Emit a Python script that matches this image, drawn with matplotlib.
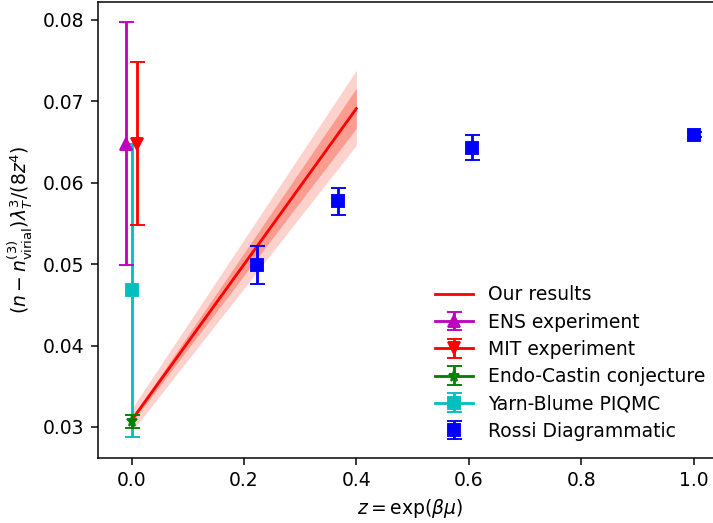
import matplotlib
matplotlib.use("Agg")
import matplotlib.pyplot as plt

# Linear fit of our results: endpoints of the line and of the two uncertainty bands
fit_z = [0.0, 0.4]
fit_y = [0.0308, 0.0691]
band1_lo = [0.0305, 0.0667]
band1_hi = [0.0311, 0.0716]
band2_lo = [0.0294, 0.0646]
band2_hi = [0.0322, 0.0738]

# Experimental and theoretical reference points
ens_z, ens_y, ens_err = [-0.01], [0.0648], [0.0149]
mit_z, mit_y, mit_err = [0.01], [0.0648], [0.0100]
endo_z, endo_y, endo_err = [0.0], [0.0307], [0.0008]
yarn_z, yarn_y, yarn_err = [0.0], [0.0468], [0.0180]
rossi_z = [0.2231, 0.3679, 0.6065, 1.0]
rossi_y = [0.0499, 0.0577, 0.0643, 0.0659]
rossi_err = [0.0023, 0.0017, 0.0015, 0.0003]

DPI = 135
fig = plt.figure(figsize=(713 / DPI, 523 / DPI), dpi=DPI)
ax = fig.add_axes([97.5 / 713, 65.5 / 523, (722 - 97.5) / 713, (521.5 - 65.5) / 523])

ax.fill_between(fit_z, band2_lo, band2_hi, color="salmon", alpha=0.35, linewidth=0)
ax.fill_between(fit_z, band1_lo, band1_hi, color="salmon", alpha=0.65, linewidth=0)
ax.plot(fit_z, fit_y, "r-", label="Our results")

ax.errorbar(ens_z, ens_y, yerr=ens_err, fmt="m^-", capsize=4,
            label="ENS experiment", zorder=5)
ax.errorbar(mit_z, mit_y, yerr=mit_err, fmt="rv-", capsize=4,
            label="MIT experiment", zorder=5)
ax.errorbar(endo_z, endo_y, yerr=endo_err, fmt="g*-", capsize=4,
            label="Endo-Castin conjecture", zorder=4)
ax.errorbar(yarn_z, yarn_y, yerr=yarn_err, fmt="cs-", capsize=4,
            label="Yarn-Blume PIQMC", zorder=3)
ax.errorbar(rossi_z, rossi_y, yerr=rossi_err, fmt="bs", capsize=4,
            label="Rossi Diagrammatic")

ax.set_xlim(-0.0605, 1.0505)
ax.set_ylim(0.02625, 0.08225)
ax.set_xlabel(r"$z = \exp(\beta\mu)$")
ax.set_ylabel(r"$(n - n^{(3)}_{\rm virial})\lambda_T^3/(8z^4)$")
ax.legend(loc="lower right", frameon=False, labelspacing=0.44)

fig.savefig("out.png", dpi=DPI)
